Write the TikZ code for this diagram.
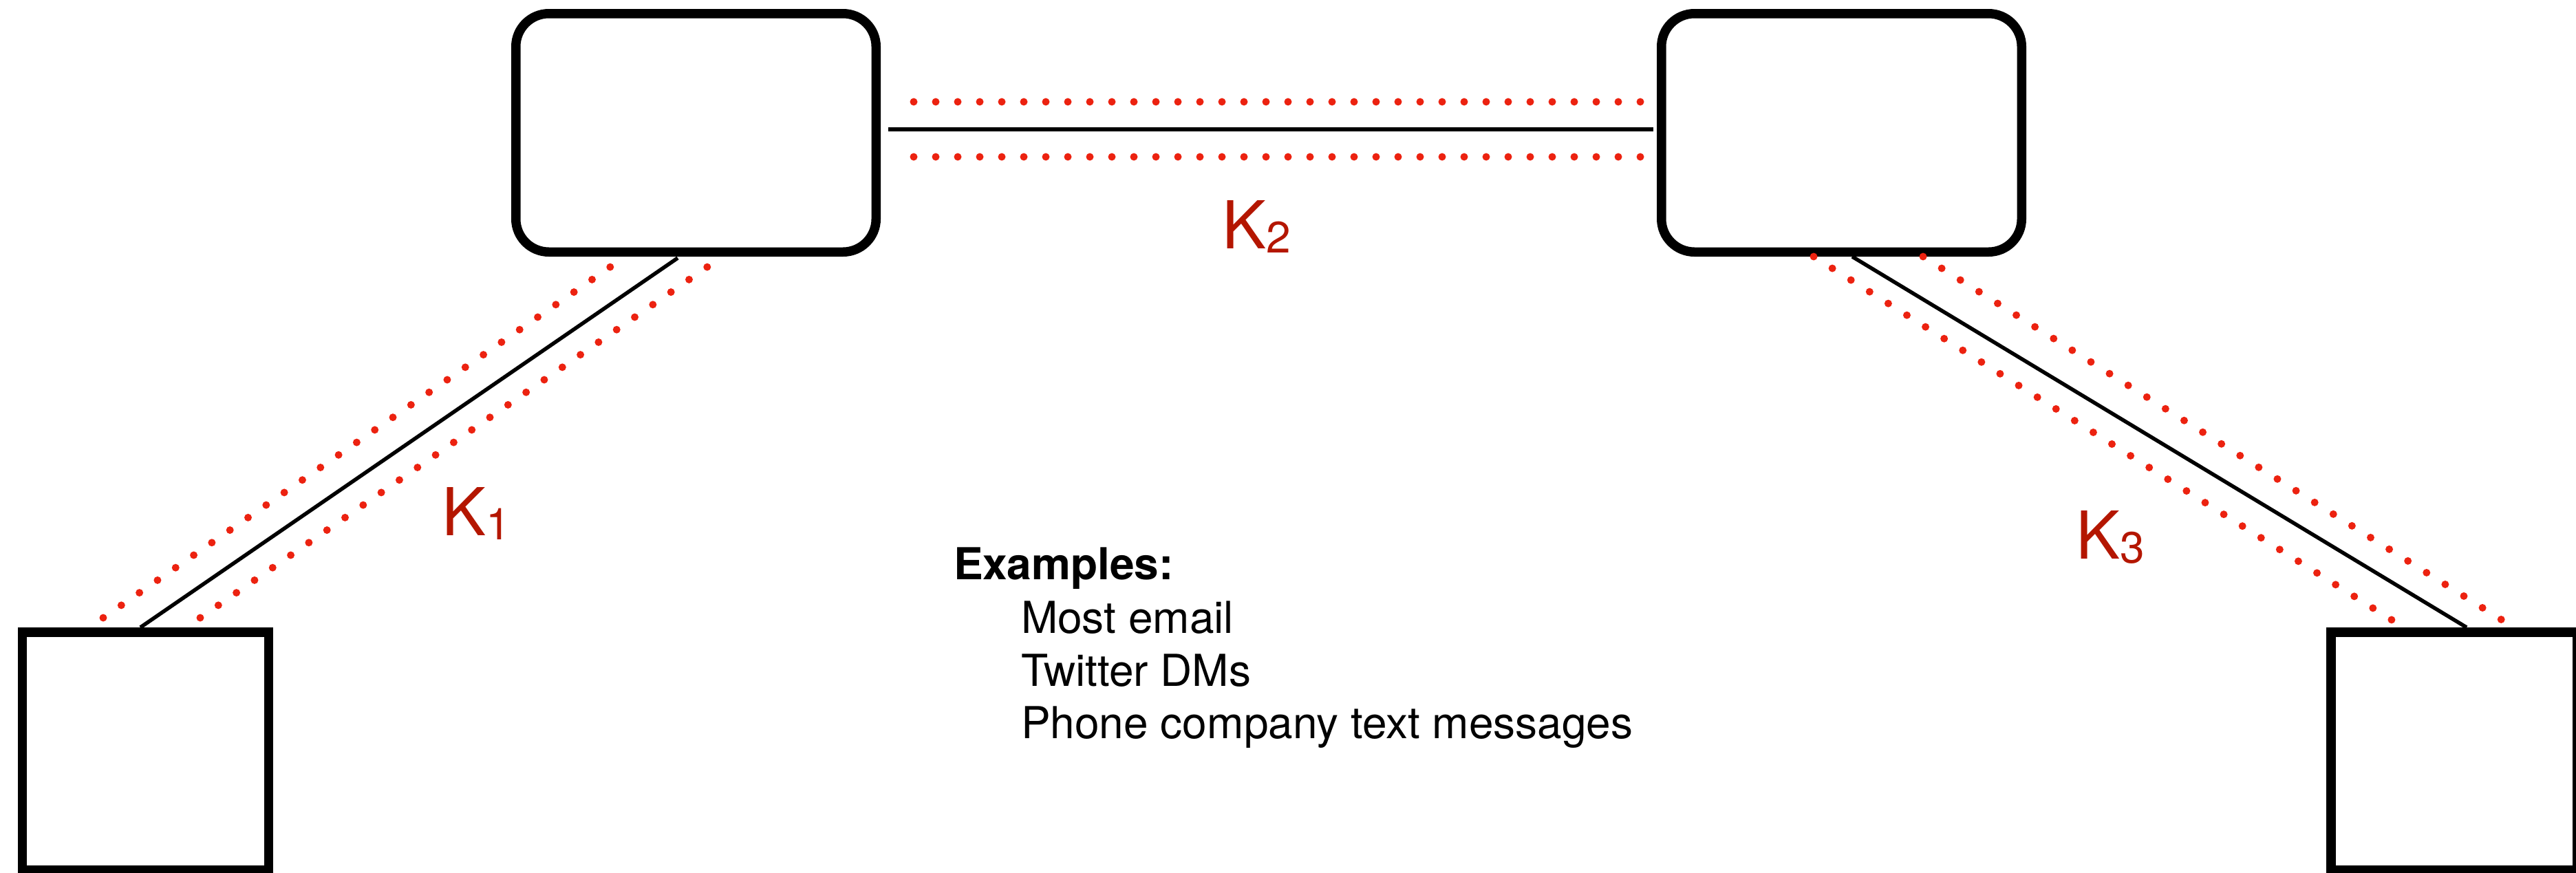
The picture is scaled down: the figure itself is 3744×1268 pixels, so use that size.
\documentclass[tikz,border=0pt]{standalone}
\usepackage{fontspec}
\setmainfont{TeX Gyre Heros}
\usetikzlibrary{calc}
\definecolor{dotred}{RGB}{236,34,16}
\definecolor{kred}{RGB}{180,22,0}
\newcommand\klabel[1]{K\raisebox{-1.2pt}{\fontsize{12.8}{14}\selectfont #1}}
\begin{document}
\begin{tikzpicture}[x=0.2pt,y=-0.2pt,
  hub/.style={draw, line width=2.7pt, rounded corners=9.6pt, minimum width=104.7pt, minimum height=69.3pt, inner sep=0pt},
  endbox/.style={draw, line width=2.7pt, minimum width=71.5pt, minimum height=69.2pt, inner sep=0pt},
  wire/.style={line width=1.1pt},
  redots/.style={dotred, line width=2.2pt, line cap=round, dash pattern=on 0pt off 6.4pt},
  klab/.style={kred, anchor=base west, inner sep=0pt, font=\fontsize{19.2}{22}\selectfont},
  txt/.style={anchor=base west, inner sep=0pt, font=\fontsize{12.8}{15}\selectfont}]
\useasboundingbox (0,0) rectangle (3744,1268);
% boxes
\node[hub] (tl) at (1011.5,193) {};
\node[hub] (tr) at (2676.5,193) {};
\node[endbox] (bl) at (211.5,1091.75) {};
\node[endbox] (br) at (3566.5,1091.75) {};
% wires
\draw[wire] ($(tl.east)+(11,-5)$) -- ($(tr.west)+(-5,-5)$);
\draw[wire] ($(tl.south)+(-26.5,2)$) -- ($(bl.north)+(-7.5,0)$);
\draw[wire] ($(tr.south)+(15.5,0)$) -- ($(br.north)+(18.5,0)$);
% dotted channels
\draw[redots] (1328,148) -- (2385,148);
\draw[redots] (1328,228) -- (2385,228);
\draw[redots] (150,898) -- (887,388);
\draw[redots] (291,898) -- (1028,388);
\draw[redots] (2636,373) -- (3476,901);
\draw[redots] (2795,373) -- (3636,901);
% key labels
\node[klab] (k1) at (641,778) {\klabel{1}};
\node[klab] (k2) at (1775,361) {\klabel{2}};
\node[klab] (k3) at (3016,812) {\klabel{3}};
% examples
\node[txt] (ex) at (1385,842) {\bfseries Examples:};
\node[txt] (ex1) at (1483,920) {Most email};
\node[txt] (ex2) at (1483,997) {Twitter DMs};
\node[txt] (ex3) at (1483,1073) {Phone company text messages};
\end{tikzpicture}
\end{document}
